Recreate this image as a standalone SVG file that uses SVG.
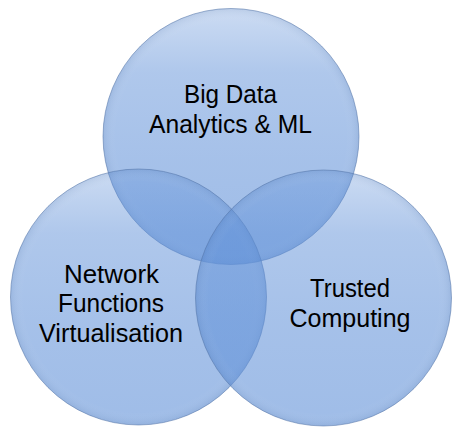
<svg xmlns="http://www.w3.org/2000/svg" width="466" height="430" viewBox="0 0 466 430">
<defs>
<linearGradient id="g" x1="0" y1="0" x2="0" y2="1">
<stop offset="0" stop-color="#5f90d8" stop-opacity="0.32"/>
<stop offset="0.25" stop-color="#5f90d8" stop-opacity="0.5"/>
<stop offset="0.6" stop-color="#5f90d8" stop-opacity="0.56"/>
<stop offset="1" stop-color="#5f90d8" stop-opacity="0.6"/>
</linearGradient>
<radialGradient id="sh" cx="0.5" cy="0.5" r="0.5">
<stop offset="0.9" stop-color="#ffffff" stop-opacity="0"/>
<stop offset="1" stop-color="#3a5f95" stop-opacity="0.12"/>
</radialGradient>
</defs>
<style>
.c{fill:url(#g);stroke:#5577aa;stroke-opacity:0.55;stroke-width:1}
.s{fill:url(#sh);stroke:none}
.t{font-family:"Liberation Sans",Arial,sans-serif;font-size:25px;fill:#000;text-anchor:middle}
</style>
<rect width="466" height="430" fill="#ffffff"/>
<g id="top">
<circle class="c" cx="231" cy="136.5" r="128"/>
<circle class="s" cx="231" cy="136.5" r="128"/>
<text class="t" x="230.5" y="103" textLength="93" lengthAdjust="spacingAndGlyphs">Big Data</text>
<text class="t" x="230.5" y="133" textLength="163" lengthAdjust="spacingAndGlyphs">Analytics &amp; ML</text>
</g>
<g id="left">
<circle class="c" cx="138.5" cy="297" r="128"/>
<circle class="s" cx="138.5" cy="297" r="128"/>
<text class="t" x="111.5" y="283" textLength="95" lengthAdjust="spacingAndGlyphs">Network</text>
<text class="t" x="111" y="312" textLength="106" lengthAdjust="spacingAndGlyphs">Functions</text>
<text class="t" x="111" y="342" textLength="144" lengthAdjust="spacingAndGlyphs">Virtualisation</text>
</g>
<g id="right">
<circle class="c" cx="323.5" cy="298" r="128"/>
<circle class="s" cx="323.5" cy="298" r="128"/>
<text class="t" x="350" y="297" textLength="80" lengthAdjust="spacingAndGlyphs">Trusted</text>
<text class="t" x="350" y="327" textLength="121" lengthAdjust="spacingAndGlyphs">Computing</text>
</g>
<g id="connectors"/>
</svg>
